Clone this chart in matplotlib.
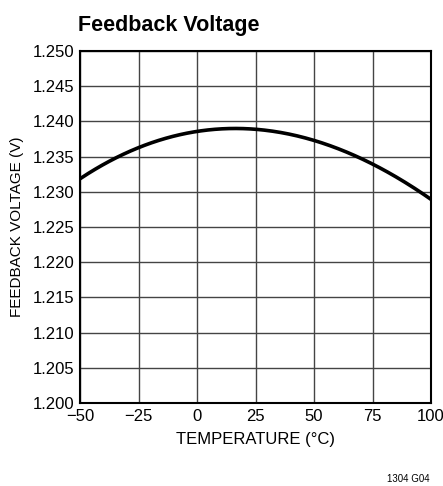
import matplotlib.pyplot as plt
import numpy as np

# temperature (C) and feedback voltage (V)
temp = [-50, -37.5, -25, -12.5, 0, 12.5, 17, 25, 37.5, 50, 62.5, 75, 87.5, 100]
vfb = [1.2318, 1.2344, 1.2363, 1.2377, 1.2385, 1.2389, 1.2390, 1.2389,
       1.2383, 1.2374, 1.2359, 1.2339, 1.2315, 1.2290]

xticks = [-50, -25, 0, 25, 50, 75, 100]
yticks = [1.200, 1.205, 1.210, 1.215, 1.220, 1.225, 1.230, 1.235, 1.240, 1.245, 1.250]

plt.rcParams['font.family'] = ['Liberation Sans', 'DejaVu Sans']

fig = plt.figure(figsize=(4.43, 4.86), dpi=100)
ax = fig.add_axes([80 / 443, 1 - 403 / 486, 351 / 443, 352 / 486])

# smooth through the read points
xs = np.linspace(-50, 100, 300)
coef = np.polyfit(temp, vfb, 4)
ax.plot(xs, np.polyval(coef, xs), color='black', lw=2.6, solid_capstyle='butt')

ax.set_xlim(-50, 100)
ax.set_ylim(1.200, 1.250)
ax.set_xticks(xticks)
ax.set_xticklabels(['\u221250', '\u221225', '0', '25', '50', '75', '100'])
ax.set_yticks(yticks)
ax.set_yticklabels(['%.3f' % v for v in yticks])
ax.tick_params(length=0, labelsize=12, pad=4, colors='black')
ax.grid(True, color='#444444', lw=1.0)
ax.set_axisbelow(True)
for s in ax.spines.values():
    s.set_linewidth(1.5)

ax.set_xlabel('TEMPERATURE (\u00b0C)', fontsize=12, labelpad=6)
ax.set_ylabel('FEEDBACK VOLTAGE (V)', fontsize=11, labelpad=6)

fig.text(78 / 443, 1 - 31 / 486, 'Feedback Voltage', fontsize=15.5, fontweight='bold')
fig.text(408 / 443, 1 - 482 / 486, '1304 G04', fontsize=7, ha='center')

fig.savefig('out.png', dpi=100)
